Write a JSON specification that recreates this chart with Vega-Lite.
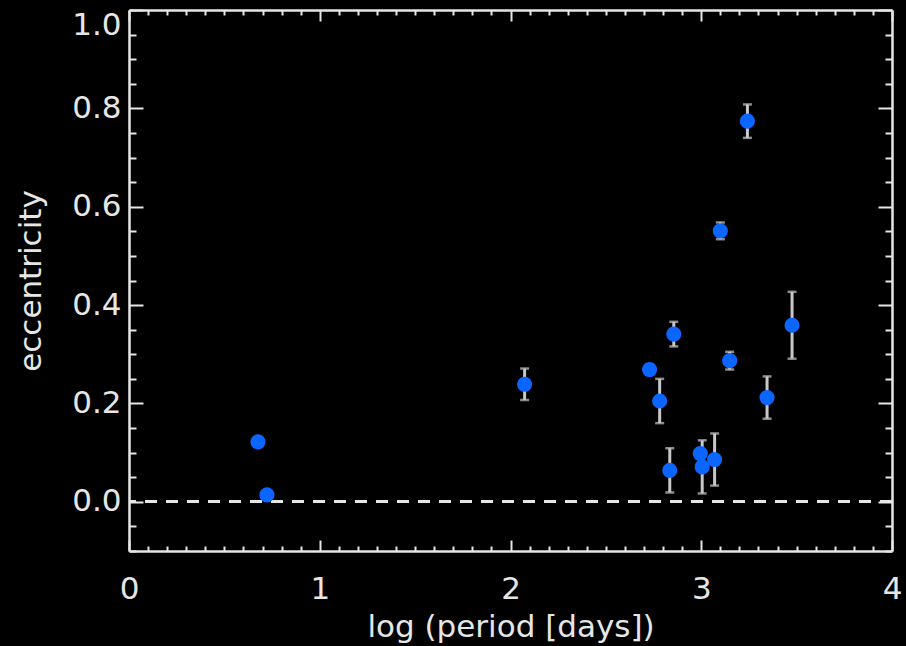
{
  "$schema": "https://vega.github.io/schema/vega-lite/v6.json",
  "background": "black",
  "autosize": "none",
  "padding": {"left": 129, "top": 10, "right": 14, "bottom": 95},
  "width": 763,
  "height": 541,
  "data": {
    "values": [
      {"logP": 0.676, "ecc": 0.122, "lo": 0.122, "hi": 0.122},
      {"logP": 0.723, "ecc": 0.014, "lo": 0.014, "hi": 0.014},
      {"logP": 2.074, "ecc": 0.239, "lo": 0.207, "hi": 0.271},
      {"logP": 2.729, "ecc": 0.269, "lo": 0.259, "hi": 0.279},
      {"logP": 2.782, "ecc": 0.205, "lo": 0.160, "hi": 0.250},
      {"logP": 2.856, "ecc": 0.341, "lo": 0.316, "hi": 0.366},
      {"logP": 2.835, "ecc": 0.064, "lo": 0.019, "hi": 0.109},
      {"logP": 2.995, "ecc": 0.098, "lo": 0.088, "hi": 0.108},
      {"logP": 3.005, "ecc": 0.071, "lo": 0.017, "hi": 0.125},
      {"logP": 3.070, "ecc": 0.086, "lo": 0.033, "hi": 0.139},
      {"logP": 3.100, "ecc": 0.551, "lo": 0.534, "hi": 0.568},
      {"logP": 3.149, "ecc": 0.287, "lo": 0.269, "hi": 0.305},
      {"logP": 3.242, "ecc": 0.774, "lo": 0.740, "hi": 0.808},
      {"logP": 3.345, "ecc": 0.212, "lo": 0.169, "hi": 0.255},
      {"logP": 3.476, "ecc": 0.359, "lo": 0.291, "hi": 0.427}
    ]
  },
  "config": {
    "view": {"stroke": null},
    "axis": {
      "grid": false,
      "domainColor": "#e6e6e6",
      "domainWidth": 2.5,
      "tickColor": "#e6e6e6",
      "tickWidth": 2,
      "labelFont": "DejaVu Sans",
      "labelFontSize": 31,
      "labelColor": "#e6e6e6",
      "labelOverlap": false,
      "labelFlush": false,
      "titleFont": "DejaVu Sans",
      "titleFontSize": 31,
      "titleFontWeight": "normal",
      "titleColor": "#e6e6e6"
    }
  },
  "resolve": {"axis": {"x": "independent", "y": "independent"}},
  "layer": [
    {
      "mark": {"type": "rule", "color": "#e6e6e6", "strokeWidth": 2.5, "strokeDash": [12, 9]},
      "encoding": {
        "y": {"datum": 0, "type": "quantitative", "scale": {"domain": [-0.1, 1.0], "nice": false}, "axis": null}
      }
    },
    {
      "mark": {"type": "rule", "color": "#c8c8c8", "strokeWidth": 3},
      "encoding": {
        "x": {
          "field": "logP", "type": "quantitative",
          "scale": {"domain": [0, 4], "nice": false, "zero": false},
          "axis": {
            "orient": "top", "labels": false, "title": null,
            "values": [0,0.1,0.2,0.3,0.4,0.5,0.6,0.7,0.8,0.9,1,1.1,1.2,1.3,1.4,1.5,1.6,1.7,1.8,1.9,2,2.1,2.2,2.3,2.4,2.5,2.6,2.7,2.8,2.9,3,3.1,3.2,3.3,3.4,3.5,3.6,3.7,3.8,3.9,4],
            "tickSize": {"condition": {"test": "abs(datum.value - round(datum.value)) < 0.001", "value": -11}, "value": -5}
          }
        },
        "y": {
          "field": "lo", "type": "quantitative",
          "scale": {"domain": [-0.1, 1.0], "nice": false, "zero": false},
          "axis": {
            "orient": "right", "labels": false, "title": null,
            "values": [-0.1,-0.05,0,0.05,0.1,0.15,0.2,0.25,0.3,0.35,0.4,0.45,0.5,0.55,0.6,0.65,0.7,0.75,0.8,0.85,0.9,0.95,1.0],
            "tickSize": {"condition": {"test": "abs(datum.value*5 - round(datum.value*5)) < 0.001", "value": -14}, "value": -7}
          }
        },
        "y2": {"field": "hi"}
      }
    },
    {
      "mark": {"type": "tick", "orient": "horizontal", "color": "#c8c8c8", "size": 9, "thickness": 2.5},
      "encoding": {
        "x": {"field": "logP", "type": "quantitative", "axis": null},
        "y": {"field": "lo", "type": "quantitative", "axis": null}
      }
    },
    {
      "mark": {"type": "tick", "orient": "horizontal", "color": "#c8c8c8", "size": 9, "thickness": 2.5},
      "encoding": {
        "x": {"field": "logP", "type": "quantitative", "axis": null},
        "y": {"field": "hi", "type": "quantitative", "axis": null}
      }
    },
    {
      "mark": {"type": "circle", "color": "#0a66ff", "opacity": 1, "size": 230},
      "encoding": {
        "x": {
          "field": "logP", "type": "quantitative",
          "axis": {
            "orient": "bottom", "title": "log (period [days])",
            "values": [0,0.1,0.2,0.3,0.4,0.5,0.6,0.7,0.8,0.9,1,1.1,1.2,1.3,1.4,1.5,1.6,1.7,1.8,1.9,2,2.1,2.2,2.3,2.4,2.5,2.6,2.7,2.8,2.9,3,3.1,3.2,3.3,3.4,3.5,3.6,3.7,3.8,3.9,4],
            "labelExpr": "abs(datum.value - round(datum.value)) < 0.001 ? format(datum.value, 'd') : ''",
            "tickSize": {"condition": {"test": "abs(datum.value - round(datum.value)) < 0.001", "value": -11}, "value": -5},
            "labelPadding": 34,
            "titlePadding": 2
          }
        },
        "y": {
          "field": "ecc", "type": "quantitative",
          "axis": {
            "orient": "left", "title": "eccentricity",
            "values": [-0.1,-0.05,0,0.05,0.1,0.15,0.2,0.25,0.3,0.35,0.4,0.45,0.5,0.55,0.6,0.65,0.7,0.75,0.8,0.85,0.9,0.95,1.0],
            "labelExpr": "abs(datum.value*5 - round(datum.value*5)) < 0.001 ? format(datum.value, '.1f') : ''",
            "tickSize": {"condition": {"test": "abs(datum.value*5 - round(datum.value*5)) < 0.001", "value": -14}, "value": -7},
            "labelFlush": true,
            "labelPadding": 22,
            "titlePadding": 24
          }
        }
      }
    }
  ]
}
